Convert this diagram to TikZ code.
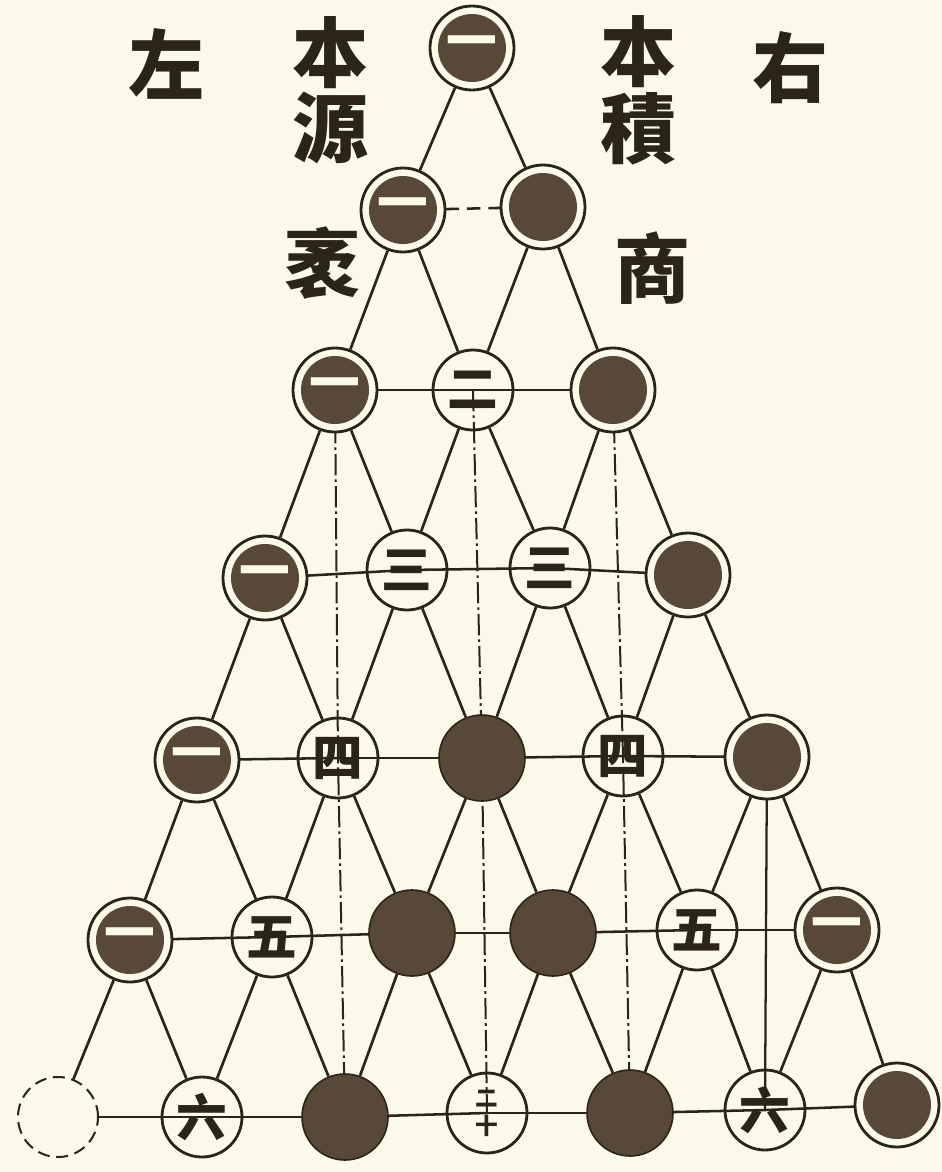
\documentclass[tikz,border=0pt]{standalone}
\usepackage{fontspec}
\newfontfamily\cjk{Noto Sans CJK TC}
\definecolor{paper}{HTML}{FBF9E9}
\definecolor{ink}{HTML}{2B2418}
\definecolor{disk}{HTML}{584838}
\pgfdeclarelayer{paperlayer}
\pgfdeclarelayer{lines}
\pgfsetlayers{paperlayer,lines,main}
\tikzset{
  numfont/.style={font=\cjk\bfseries\fontsize{38}{38}\selectfont},
  ringdark/.style={circle, draw=ink, line width=2.1pt, fill=paper, minimum size=63pt, inner sep=0pt,
    path picture={\fill[disk] (path picture bounding box.center) circle (25.5pt);},
    text=paper, numfont},
  whitenode/.style={circle, draw=ink, line width=2.1pt, minimum size=60pt, inner sep=0pt, text=ink, numfont},
  darknode/.style={circle, draw=ink, line width=1.2pt, fill=disk, minimum size=64.5pt, inner sep=0pt},
  faintnode/.style={circle, draw=ink, line width=1.5pt, dash pattern=on 9pt off 5pt, fill=paper, minimum size=60pt, inner sep=0pt},
  link/.style={draw=ink, line width=2pt},
  rowline/.style={draw=ink, line width=1.9pt},
  vline/.style={draw=ink, line width=1.5pt, dash pattern=on 16pt off 3pt on 2pt off 3pt},
  label/.style={text=ink, font=\cjk\bfseries\fontsize{57}{57}\selectfont, inner sep=0pt},
}
\begin{document}
\begin{tikzpicture}[x=0.75pt,y=-0.75pt]
\begin{pgfonlayer}{paperlayer}
\fill[paper] (0,0) rectangle (942,1172);
\end{pgfonlayer}
\useasboundingbox (0,0) rectangle (942,1172);

% labels
\node[label] (zuo) at (166,64) {左};
\node[label] (ben1) at (330,53) {本};
\node[label] (yuan) at (330,128) {源};
\node[label] (mao) at (322,263) {袤};
\node[label] (ben2) at (638,52) {本};
\node[label] (ji) at (638,129) {積};
\node[label] (you) at (790,68) {右};
\node[label] (shang) at (652,268) {商};

% row 0
\node[ringdark] (n00) at (472,48) {一};
% row 1
\node[ringdark] (n10) at (403,210) {一};
\node[ringdark] (n11) at (543,207) {};
% row 2
\node[ringdark] (n20) at (335,390) {一};
\node[whitenode] (n21) at (473,390) {二};
\node[ringdark] (n22) at (613,390) {};
% row 3
\node[ringdark] (n30) at (265,578) {一};
\node[whitenode] (n31) at (407,570) {三};
\node[whitenode] (n32) at (550,568) {三};
\node[ringdark] (n33) at (688,575) {};
% row 4
\node[ringdark] (n40) at (197,760) {一};
\node[whitenode] (n41) at (338,758) {四};
\node[darknode] (n42) at (482,758) {};
\node[whitenode] (n43) at (623,756) {四};
\node[ringdark] (n44) at (767,757) {};
% row 5
\node[ringdark] (n50) at (130,940) {一};
\node[whitenode] (n51) at (272,937) {五};
\node[darknode] (n52) at (412,933) {};
\node[darknode] (n53) at (553,933) {};
\node[whitenode] (n54) at (697,930) {五};
\node[ringdark] (n55) at (837,930) {一};
% row 6
\node[faintnode] (n60) at (58,1117) {};
\node[whitenode] (n61) at (202,1117) {六};
\node[darknode] (n62) at (345,1117) {};
\node[whitenode, font=\cjk\bfseries\fontsize{17}{21}\selectfont, align=center] (n63) at (487,1113) {二\\十};
\node[darknode] (n64) at (630,1113) {};
\node[whitenode] (n65) at (765,1110) {六};
\node[ringdark] (n66) at (897,1105) {};

\begin{pgfonlayer}{lines}
% diagonals
\foreach \r in {0,...,5}{
  \pgfmathtruncatemacro{\rr}{\r+1}
  \foreach \k in {0,...,\r}{
    \pgfmathtruncatemacro{\kk}{\k+1}
    \draw[link] (n\r\k) -- (n\rr\k);
    \draw[link] (n\r\k) -- (n\rr\kk);
  }
}
% row lines
\draw[rowline, dash pattern=on 10pt off 6pt] (n10.center) -- (n11.center);
\foreach \r in {2,...,6}{
  \pgfmathtruncatemacro{\last}{\r-1}
  \foreach \k in {0,...,\last}{
    \pgfmathtruncatemacro{\kk}{\k+1}
    \draw[rowline] (n\r\k.center) -- (n\r\kk.center);
  }
}
% vertical lines
\draw[vline] (n20.center) -- (n41.center) -- (n62.center);
\draw[vline] (n21.center) -- (n42.center) -- (n63.center);
\draw[vline] (n22.center) -- (n43.center) -- (n64.center);
\draw[link, line width=1.7pt] (n44.center) -- (n65.center);
\end{pgfonlayer}
\end{tikzpicture}
\end{document}
